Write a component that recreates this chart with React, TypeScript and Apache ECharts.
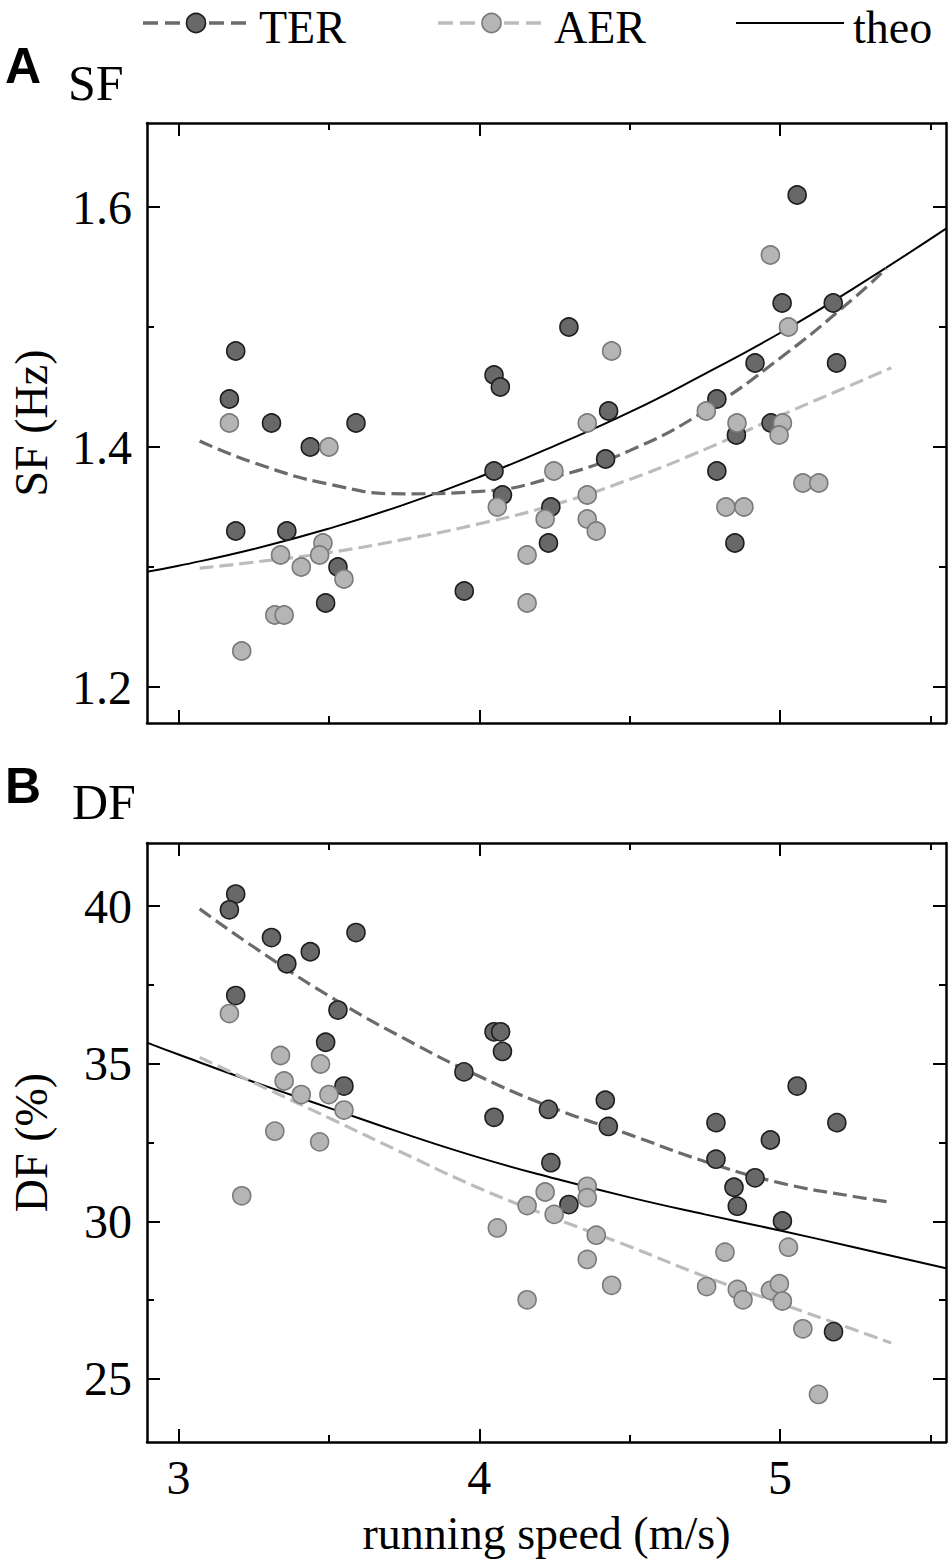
import React, { useEffect, useRef } from "react";
import * as echarts from "echarts";

// ---- axes ----
const speedRange = [2.895, 5.552];
const sfRange = [1.17, 1.67];
const dfRange = [23, 42];
const speedMajor = [3, 4, 5];
const speedMinor = [3.5, 4.5, 5.5];
const sfMajor = [1.2, 1.4, 1.6];
const sfMinor = [1.3, 1.5];
const dfMajor = [25, 30, 35, 40];
const dfMinor = [27.5, 32.5, 37.5];

// ---- panel A : SF ----
const sfTerSpeed = [3.19, 3.169, 3.309, 3.59, 3.438, 3.19, 3.36, 3.53, 3.489, 4.298, 4.049, 4.07, 4.43, 4.42, 4.049, 4.077, 4.238, 4.23, 3.95, 5.057, 5.007, 5.177, 4.917, 5.188, 4.79, 4.97, 4.855, 4.79, 4.85];
const sfTerValue = [1.48, 1.44, 1.42, 1.42, 1.4, 1.33, 1.33, 1.3, 1.27, 1.5, 1.46, 1.45, 1.43, 1.39, 1.38, 1.36, 1.35, 1.32, 1.28, 1.61, 1.52, 1.52, 1.47, 1.47, 1.44, 1.42, 1.41, 1.38, 1.32];
const sfAerSpeed = [3.169, 3.5, 3.48, 3.339, 3.469, 3.408, 3.55, 3.32, 3.351, 3.21, 4.44, 4.359, 4.248, 4.359, 4.06, 4.219, 4.359, 4.389, 4.159, 4.159, 4.968, 5.028, 4.755, 4.857, 5.008, 4.997, 5.076, 5.129, 4.82, 4.88];
const sfAerValue = [1.42, 1.4, 1.32, 1.31, 1.31, 1.3, 1.29, 1.26, 1.26, 1.23, 1.48, 1.42, 1.38, 1.36, 1.35, 1.34, 1.34, 1.33, 1.31, 1.27, 1.56, 1.5, 1.43, 1.42, 1.42, 1.41, 1.37, 1.37, 1.35, 1.35];

const sfTerFitSpeed = [3.07, 3.25, 3.5, 3.75, 4.0, 4.25, 4.5, 4.75, 5.0, 5.25, 5.354];
const sfTerFitValue = [1.405, 1.387, 1.369, 1.361, 1.363, 1.375, 1.397, 1.43, 1.474, 1.525, 1.549];
const sfAerFitSpeed = [3.07, 3.25, 3.5, 3.75, 4.0, 4.25, 4.5, 4.75, 5.0, 5.25, 5.37];
const sfAerFitValue = [1.299, 1.304, 1.312, 1.323, 1.336, 1.352, 1.373, 1.398, 1.426, 1.453, 1.466];
const sfTheoSpeed = [2.895, 3.0, 3.25, 3.5, 3.75, 4.0, 4.25, 4.5, 4.75, 5.0, 5.25, 5.552];
const sfTheoValue = [1.296, 1.301, 1.315, 1.332, 1.352, 1.375, 1.401, 1.429, 1.461, 1.495, 1.533, 1.582];

// ---- panel B : DF ----
const dfTerSpeed = [3.19, 3.169, 3.309, 3.59, 3.438, 3.36, 3.19, 3.53, 3.489, 3.55, 4.049, 4.071, 4.077, 3.949, 4.419, 4.049, 4.23, 4.429, 4.238, 4.298, 5.057, 4.787, 5.189, 4.968, 4.787, 4.917, 4.847, 4.858, 5.008, 5.178];
const dfTerValue = [40.38, 39.88, 39.0, 39.16, 38.55, 38.17, 37.16, 36.7, 35.68, 34.29, 36.01, 36.01, 35.39, 34.74, 33.84, 33.3, 33.55, 33.01, 31.86, 30.53, 34.29, 33.13, 33.13, 32.58, 31.97, 31.38, 31.08, 30.48, 30.01, 26.5];
const dfAerSpeed = [3.169, 3.339, 3.472, 3.351, 3.408, 3.5, 3.55, 3.32, 3.469, 3.21, 4.359, 4.359, 4.219, 4.159, 4.249, 4.06, 4.389, 4.359, 4.44, 4.159, 4.817, 5.028, 4.756, 4.858, 4.877, 4.968, 4.998, 5.008, 5.076, 5.128];
const dfAerValue = [36.59, 35.26, 34.99, 34.45, 34.02, 34.02, 33.53, 32.86, 32.52, 30.81, 31.11, 30.75, 30.93, 30.5, 30.22, 29.79, 29.56, 28.79, 27.97, 27.51, 29.02, 29.18, 27.93, 27.84, 27.51, 27.81, 28.02, 27.47, 26.59, 24.51];

const dfTerFitSpeed = [3.07, 3.25, 3.5, 3.75, 4.0, 4.25, 4.5, 4.75, 5.0, 5.25, 5.36];
const dfTerFitValue = [39.91, 38.7, 37.15, 35.8, 34.6, 33.58, 32.75, 31.9, 31.22, 30.78, 30.62];
const dfAerFitSpeed = [3.07, 3.25, 3.5, 3.75, 4.0, 4.25, 4.5, 4.75, 5.0, 5.25, 5.37];
const dfAerFitValue = [35.2, 34.4, 33.28, 32.15, 31.05, 30.1, 29.2, 28.25, 27.4, 26.55, 26.14];
const dfTheoSpeed = [2.895, 3.0, 3.25, 3.5, 3.75, 4.0, 4.25, 4.5, 4.75, 5.0, 5.25, 5.552];
const dfTheoValue = [35.67, 35.29, 34.42, 33.6, 32.78, 32.02, 31.36, 30.76, 30.22, 29.71, 29.17, 28.51];

const legendNames = ["TER", "AER", "theo"];
const panelLetters = ["A", "B"];
const panelTitles = ["SF", "DF"];
const yNames = ["SF (Hz)", "DF (%)"];
const xName = "running speed (m/s)";

const SERIF = "'Liberation Serif', 'Times New Roman', serif";
const SANS = "'Liberation Sans', Arial, sans-serif";
const TER_FILL = "#686868";
const TER_EDGE = "#1e1e1e";
const AER_FILL = "#b5b5b5";
const AER_EDGE = "#7a7a7a";
const TER_LINE = "#6b6b6b";
const AER_LINE = "#bcbcbc";
const DASH = [14, 6];

const zip = (xs: number[], ys: number[]) => xs.map((x, i) => [x, ys[i]]);

function axis(grid: number, position: string, range: number[], ticks: number[], major: boolean, opts: any = {}) {
  return {
    type: "value",
    gridIndex: grid,
    position,
    min: range[0],
    max: range[1],
    splitLine: { show: false },
    axisLine: { show: major, onZero: false, lineStyle: { color: "#000", width: 2.5 } },
    axisTick: {
      show: true,
      inside: true,
      length: major ? 13 : 7,
      customValues: ticks,
      lineStyle: { color: "#000", width: 2 },
    },
    axisLabel: { show: false },
    axisPointer: { show: false },
    ...opts,
  };
}

function labelOpts(vals: number[], fmt: (v: number) => string, margin: number) {
  return {
    show: true,
    customValues: vals,
    formatter: (v: number) => fmt(v),
    fontFamily: SERIF,
    fontSize: 48,
    color: "#000",
    margin,
  };
}

export default function App() {
  const ref = useRef<HTMLDivElement>(null);
  useEffect(() => {
    if (!ref.current) return;
    const chart = echarts.init(ref.current, undefined, { renderer: "svg" });

    const nameStyle = { fontFamily: SERIF, fontSize: 46, color: "#000" };
    const xAxes = [
      axis(0, "bottom", speedRange, speedMajor, true),
      axis(0, "top", speedRange, speedMajor, true),
      axis(0, "bottom", speedRange, speedMinor, false),
      axis(0, "top", speedRange, speedMinor, false),
      axis(1, "bottom", speedRange, speedMajor, true, {
        axisLabel: labelOpts(speedMajor, (v) => String(v), 11),
        name: xName,
        nameLocation: "middle",
        nameGap: 68,
        nameTextStyle: nameStyle,
      }),
      axis(1, "top", speedRange, speedMajor, true),
      axis(1, "bottom", speedRange, speedMinor, false),
      axis(1, "top", speedRange, speedMinor, false),
    ];
    const yAxes = [
      axis(0, "left", sfRange, sfMajor, true, {
        axisLabel: labelOpts(sfMajor, (v) => v.toFixed(1), 15),
        name: yNames[0],
        nameLocation: "middle",
        nameGap: 93,
        nameTextStyle: nameStyle,
      }),
      axis(0, "right", sfRange, sfMajor, true),
      axis(0, "left", sfRange, sfMinor, false),
      axis(0, "right", sfRange, sfMinor, false),
      axis(1, "left", dfRange, dfMajor, true, {
        axisLabel: labelOpts(dfMajor, (v) => String(v), 15),
        name: yNames[1],
        nameLocation: "middle",
        nameGap: 93,
        nameTextStyle: nameStyle,
      }),
      axis(1, "right", dfRange, dfMajor, true),
      axis(1, "left", dfRange, dfMinor, false),
      axis(1, "right", dfRange, dfMinor, false),
    ];

    const lineSeries = (name: string, xi: number, data: number[][], color: string, width: number, dashed: boolean) => ({
      type: "line",
      name,
      xAxisIndex: xi,
      yAxisIndex: xi,
      data,
      smooth: true,
      showSymbol: false,
      symbol: "none",
      z: 2,
      lineStyle: { color, width, type: dashed ? DASH : "solid" },
      silent: true,
    });
    const scatterSeries = (name: string, xi: number, data: number[][], fill: string, edge: string, z: number) => ({
      type: "scatter",
      name,
      xAxisIndex: xi,
      yAxisIndex: xi,
      data,
      symbol: "circle",
      symbolSize: 18,
      z,
      itemStyle: { color: fill, borderColor: edge, borderWidth: 1.6, opacity: 1 },
      silent: true,
    });

    const series = [
      lineSeries("theo", 0, zip(sfTheoSpeed, sfTheoValue), "#000", 2, false),
      lineSeries("TER fit", 0, zip(sfTerFitSpeed, sfTerFitValue), TER_LINE, 3.2, true),
      lineSeries("AER fit", 0, zip(sfAerFitSpeed, sfAerFitValue), AER_LINE, 3.2, true),
      scatterSeries("TER", 0, zip(sfTerSpeed, sfTerValue), TER_FILL, TER_EDGE, 3),
      scatterSeries("AER", 0, zip(sfAerSpeed, sfAerValue), AER_FILL, AER_EDGE, 4),
      lineSeries("theo", 4, zip(dfTheoSpeed, dfTheoValue), "#000", 2, false),
      lineSeries("TER fit", 4, zip(dfTerFitSpeed, dfTerFitValue), TER_LINE, 3.2, true),
      lineSeries("AER fit", 4, zip(dfAerFitSpeed, dfAerFitValue), AER_LINE, 3.2, true),
      scatterSeries("TER", 4, zip(dfTerSpeed, dfTerValue), TER_FILL, TER_EDGE, 3),
      scatterSeries("AER", 4, zip(dfAerSpeed, dfAerValue), AER_FILL, AER_EDGE, 4),
    ];

    const legendY = 23;
    const legendTextY = 27;
    const legendItems = [
      { x0: 143, x1: 249, name: legendNames[0], color: TER_LINE, dash: [15, 7], marker: { fill: TER_FILL, edge: TER_EDGE }, tx: 259 },
      { x0: 438, x1: 545, name: legendNames[1], color: AER_LINE, dash: [15, 7], marker: { fill: AER_FILL, edge: AER_EDGE }, tx: 554 },
      { x0: 736, x1: 844, name: legendNames[2], color: "#000", dash: null, marker: null, tx: 853 },
    ];
    const graphic: any[] = [];
    legendItems.forEach((it) => {
      graphic.push({
        type: "line",
        shape: { x1: it.x0, y1: legendY, x2: it.x1, y2: legendY },
        style: { stroke: it.color, lineWidth: it.dash ? 3.5 : 2, lineDash: it.dash || undefined },
        silent: true,
      });
      if (it.marker) {
        graphic.push({
          type: "circle",
          shape: { cx: (it.x0 + it.x1) / 2, cy: legendY, r: 9.5 },
          style: { fill: it.marker.fill, stroke: it.marker.edge, lineWidth: 1.6 },
          silent: true,
        });
      }
      graphic.push({
        type: "text",
        x: it.tx,
        y: legendTextY,
        style: { text: it.name, fontFamily: SERIF, fontSize: 46, fill: "#000", textVerticalAlign: "middle", verticalAlign: "middle" },
        silent: true,
      });
    });
    const panelTops = [66, 786];
    const titleYs = [83, 802];
    const titleXs = [68, 72];
    panelLetters.forEach((l, i) => {
      graphic.push({
        type: "text",
        x: 5,
        y: panelTops[i],
        style: { text: l, fontFamily: SANS, fontWeight: "bold", fontSize: 50, fill: "#000", verticalAlign: "middle", textVerticalAlign: "middle" },
        silent: true,
      });
      graphic.push({
        type: "text",
        x: titleXs[i],
        y: titleYs[i],
        style: { text: panelTitles[i], fontFamily: SERIF, fontSize: 50, fill: "#000", verticalAlign: "middle", textVerticalAlign: "middle" },
        silent: true,
      });
    });

    chart.setOption({
      animation: false,
      backgroundColor: "#fff",
      grid: [
        { left: 143, top: 123, width: 803, height: 600, containLabel: false },
        { left: 143, top: 843, width: 803, height: 599, containLabel: false },
      ],
      xAxis: xAxes,
      yAxis: yAxes,
      series,
      graphic,
    });
    return () => chart.dispose();
  }, []);
  return <div ref={ref} style={{ position: "absolute", left: 0, top: 0, width: 950, height: 1565 }} />;
}
